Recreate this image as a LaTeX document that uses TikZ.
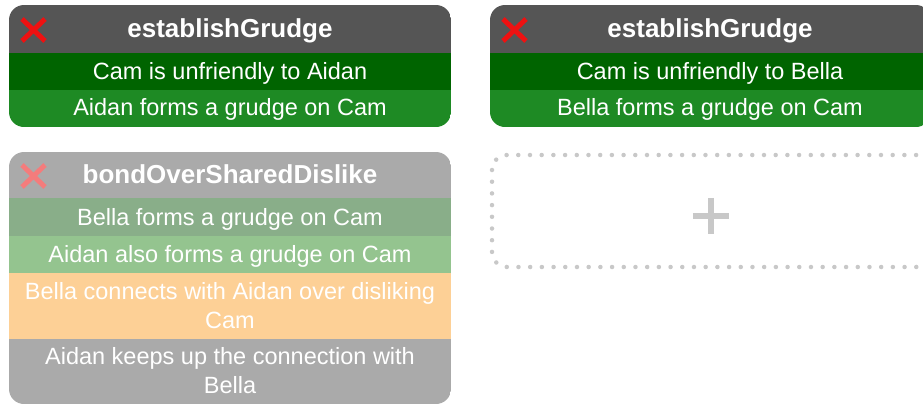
\documentclass[tikz,border=0pt]{standalone}
\usepackage{fontspec}
\setmainfont{Liberation Sans}
\definecolor{hdrgray}{HTML}{555555}
\definecolor{rowdark}{HTML}{006400}
\definecolor{rowlight}{HTML}{1E8A24}
\definecolor{xred}{HTML}{EE1111}
\definecolor{fhdr}{HTML}{AAAAAA}
\definecolor{frowa}{HTML}{89AE89}
\definecolor{frowb}{HTML}{94C48F}
\definecolor{frowc}{HTML}{FDD096}
\definecolor{frowd}{HTML}{AAAAAA}
\definecolor{fxred}{HTML}{F47C7C}
\definecolor{dotgray}{HTML}{C8C8C8}
\begin{document}
\begin{tikzpicture}[x=1pt,y=-1pt,
  titletxt/.style={anchor=base,inner sep=0pt,text=white,font=\fontsize{26}{30}\selectfont\bfseries},
  bodytxt/.style={anchor=base,inner sep=0pt,text=white,font=\fontsize{23.5}{29}\selectfont},
  xmark/.style={line width=5pt},
  cardclip/.style={rounded corners=15pt}]
\clip (0,0) rectangle (923,405);

% card 1: establishGrudge (Aidan)
\begin{scope}
  \clip[cardclip] (9,5) rectangle (451,127);
  \fill[hdrgray] (9,5) rectangle (451,53);
  \fill[rowdark] (9,53) rectangle (451,90);
  \fill[rowlight] (9,90) rectangle (451,127);
\end{scope}
\draw[xmark,xred] (22,19) -- (45,41) (45,19) -- (22,41);
\node[titletxt] (ta) at (230,37.5) {establishGrudge};
\node[bodytxt] (ta1) at (230,79.5) {Cam is unfriendly to Aidan};
\node[bodytxt] (ta2) at (230,115.5) {Aidan forms a grudge on Cam};

% card 2: establishGrudge (Bella)
\begin{scope}
  \clip[cardclip] (490,5) rectangle (931,127);
  \fill[hdrgray] (490,5) rectangle (931,53);
  \fill[rowdark] (490,53) rectangle (931,90);
  \fill[rowlight] (490,90) rectangle (931,127);
\end{scope}
\draw[xmark,xred] (503,19) -- (526,41) (526,19) -- (503,41);
\node[titletxt] (tb) at (710,37.5) {establishGrudge};
\node[bodytxt] (tb1) at (710,79.5) {Cam is unfriendly to Bella};
\node[bodytxt] (tb2) at (710,115.5) {Bella forms a grudge on Cam};

% card 3: bondOverSharedDislike (faded)
\begin{scope}
  \clip[cardclip] (9,152) rectangle (451,404);
  \fill[fhdr] (9,152) rectangle (451,198);
  \fill[frowa] (9,198) rectangle (451,236);
  \fill[frowb] (9,236) rectangle (451,273);
  \fill[frowc] (9,273) rectangle (451,339);
  \fill[frowd] (9,339) rectangle (451,404);
\end{scope}
\draw[xmark,fxred] (22,165) -- (45,187) (45,165) -- (22,187);
\node[titletxt] (tc) at (230,183) {bondOverSharedDislike};
\node[bodytxt] (tc1) at (230,225.5) {Bella forms a grudge on Cam};
\node[bodytxt] (tc2) at (230,262.5) {Aidan also forms a grudge on Cam};
\node[bodytxt] (tc3a) at (230,299.5) {Bella connects with Aidan over disliking};
\node[bodytxt] (tc3b) at (230,328.5) {Cam};
\node[bodytxt] (tc4a) at (230,364.5) {Aidan keeps up the connection with};
\node[bodytxt] (tc4b) at (230,393.5) {Bella};

% empty slot with add sign
\draw[dotgray,line width=4.5pt,line cap=round,dash pattern=on 0pt off 11.7pt,rounded corners=15pt]
  (492,155) rectangle (931,267);
\node[inner sep=0pt,minimum size=36pt] (add) at (711,216) {};
\draw[dotgray,line width=6.5pt] (add.west) -- (add.east) (add.north) -- (add.south);
\end{tikzpicture}
\end{document}
